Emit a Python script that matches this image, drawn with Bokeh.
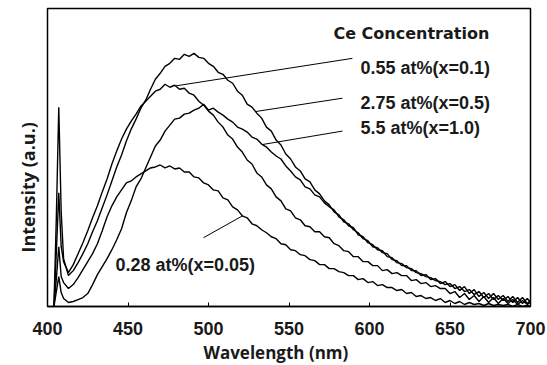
import numpy as np
from bokeh.plotting import figure
from bokeh.models import Range1d, Label, FixedTicker, Title
from bokeh.embed import file_html
from bokeh.resources import INLINE

# Wavelength grid (nm)
wavelength = [404, 405.5, 407, 408.5, 410, 413] + list(range(416, 700, 3)) + [700]

# Ce 2.75 at% (x=0.5) - tallest band
ce_275 = [0, 90, 200, 95, 48, 31, 36, 44, 53, 63, 75, 86, 99, 112, 126, 140, 152, 166, 178, 188,
          199, 207, 218, 228, 234, 241, 244, 249, 248, 253, 251, 254, 250, 249, 244, 241, 235, 233,
          227, 224, 216, 212, 203, 200, 194, 189, 180, 176, 167, 162, 153, 148, 140, 136, 128, 125,
          117, 113, 106, 102, 95, 92, 85, 83, 77, 74, 68, 66, 60, 59, 54, 53, 47, 46, 41, 41, 36, 36,
          31, 32, 27, 28, 23, 25, 20, 22, 16, 20, 13, 17, 10, 14, 8, 13, 7, 11, 5, 10, 4, 9, 3, 6]

# Ce 0.55 at% (x=0.1)
ce_055 = [0, 55, 114, 60, 45, 34, 42, 53, 64, 76, 89, 101, 115, 128, 143, 156, 168, 178, 186, 193,
          201, 206, 211, 216, 218, 223, 220, 222, 218, 219, 214, 212, 206, 202, 196, 192, 185, 180,
          172, 168, 160, 155, 147, 143, 134, 130, 122, 118, 110, 106, 98, 96, 89, 87, 81, 80, 75, 75,
          70, 69, 63, 61, 56, 55, 50, 50, 45, 45, 41, 41, 36, 37, 33, 34, 31, 31, 26, 27, 23, 24, 20,
          21, 18, 18, 13, 15, 9, 13, 7, 11, 5, 10, 4, 9, 3, 8, 3, 7, 2, 6, 2, 4]

# Ce 5.5 at% (x=1.0)
ce_55 = [0, 15, 30, 14, 8, 4, 5, 7, 9, 13, 22, 32, 40, 48, 57, 67, 78, 94, 106, 120,
         128, 139, 150, 161, 167, 176, 182, 188, 189, 193, 194, 197, 199, 203, 197, 199, 195, 192,
         188, 185, 180, 178, 175, 170, 168, 163, 160, 155, 151, 148, 141, 136, 130, 127, 120, 118,
         112, 110, 104, 100, 97, 90, 87, 81, 79, 72, 70, 64, 62, 57, 56, 50, 49, 44, 43, 39, 38, 34,
         33, 30, 29, 26, 25, 22, 23, 18, 20, 15, 17, 12, 15, 9, 13, 7, 11, 6, 10, 4, 9, 3, 8, 4]

# Ce 0.28 at% (x=0.05)
ce_028 = [0, 28, 60, 30, 24, 18, 22, 29, 37, 45, 53, 63, 76, 90, 101, 110, 117, 124, 126, 130,
          133, 136, 139, 140, 142, 139, 141, 138, 139, 135, 135, 130, 129, 124, 122, 117, 116, 109,
          107, 100, 97, 91, 89, 83, 81, 77, 74, 70, 68, 63, 62, 57, 56, 52, 51, 47, 46, 42, 42, 38,
          38, 35, 34, 31, 31, 27, 28, 24, 25, 21, 22, 19, 19, 16, 17, 13, 14, 10, 11, 8, 9, 6, 8, 4,
          6, 3, 5, 2, 4, 2, 3, 1, 3, 1, 2, 1, 2, 0, 2, 0, 1, 0]

x_ticks = [400, 450, 500, 550, 600, 650, 700]

labels = ["0.55 at%(x=0.1)", "2.75 at%(x=0.5)", "5.5 at%(x=1.0)", "0.28 at%(x=0.05)"]
series = [ce_055, ce_275, ce_55, ce_028]
# wavelength on each curve where the leader line touches it
leader_at = [479.5, 529.2, 533.5, 521.1]

p = figure(width=547, height=365, output_backend="svg", toolbar_location=None,
           x_range=Range1d(400, 700), y_range=Range1d(0, 299),
           min_border_left=47, min_border_right=17, min_border_top=8, min_border_bottom=58)

p.xgrid.visible = False
p.ygrid.visible = False
p.yaxis.visible = False
p.outline_line_color = "black"
p.outline_line_width = 1.5
p.background_fill_color = "white"
p.border_fill_color = "white"

ax = p.xaxis[0]
ax.ticker = FixedTicker(ticks=x_ticks)
ax.major_tick_in = 4
ax.major_tick_out = 0
ax.minor_tick_line_color = None
ax.axis_line_color = "black"
ax.axis_line_width = 1.5
ax.major_tick_line_color = "black"
ax.major_tick_line_width = 1
ax.major_label_text_font = "Liberation Sans"
ax.major_label_text_font_style = "bold"
ax.major_label_text_font_size = "18px"
ax.major_label_text_color = "#1a1a1a"
ax.major_label_standoff = 15

for s in series:
    p.line(wavelength, s, line_color="black", line_width=1.4)

# leader lines: start on the curve, end near the text
ends = [(589.4, 249), (583.2, 209), (583.2, 176), (496.9, 69)]
x0 = []
y0 = []
x1 = []
y1 = []
for s, lw, e in zip(series, leader_at, ends):
    x0.append(lw)
    y0.append(float(np.interp(lw, wavelength, s)))
    x1.append(e[0])
    y1.append(e[1])
p.segment(x0=x0, y0=y0, x1=x1, y1=y1, line_color="black", line_width=1)

label_pos = [(594.4, 239), (594.4, 204), (594.4, 179), (442.2, 42)]
for t, (lx, ly) in zip(labels, label_pos):
    p.add_layout(Label(x=lx, y=ly, text=t, text_font="Liberation Sans", text_font_style="bold",
                       text_font_size="18px", text_baseline="middle", text_align="left",
                       text_color="#1a1a1a"))

p.add_layout(Label(x=577.6, y=274, text="Ce Concentration", text_font="DejaVu Sans",
                   text_font_style="bold", text_font_size="16px", text_baseline="middle",
                   text_color="#1a1a1a"))

p.add_layout(Title(text="Wavelength (nm)", align="left", offset=156, standoff=3,
                   text_font="Open Sans", text_font_style="bold", text_font_size="17px",
                   text_color="#1a1a1a"), "below")
p.add_layout(Title(text="Intensity (a.u.)", align="left", offset=54, standoff=15,
                   text_font="Open Sans", text_font_style="bold", text_font_size="18px",
                   text_color="#1a1a1a"), "left")

open("out.html", "w").write(file_html(p, INLINE))
